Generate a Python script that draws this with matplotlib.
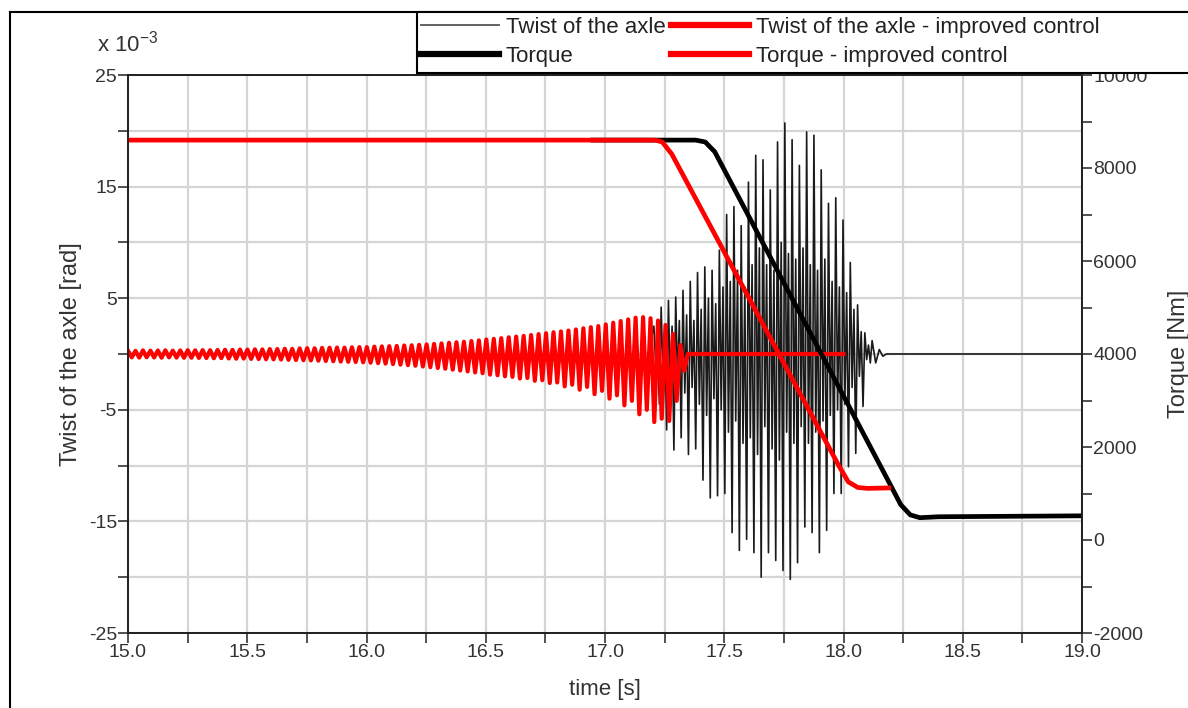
import numpy as np
import matplotlib
matplotlib.use("Agg")
import matplotlib.pyplot as plt
from matplotlib.patches import Rectangle
from matplotlib.lines import Line2D

plt.rcParams['font.family'] = ['Liberation Sans', 'DejaVu Sans']
plt.rcParams['axes.unicode_minus'] = False

# ---- data (twist in 1e-3 rad, torque in Nm) ----
# twist of the axle - improved control: oscillation peaks, ~32 Hz, from 15.0 s
red_twist_start = 15.0
red_twist_period = 0.0313
red_twist_up = [
    0.30, 0.28, 0.32, 0.30, 0.31, 0.33, 0.30, 0.32, 0.34, 0.33,
    0.35, 0.34, 0.36, 0.38, 0.37, 0.40, 0.40, 0.42, 0.41, 0.44,
    0.45, 0.47, 0.46, 0.50, 0.52, 0.51, 0.55, 0.56, 0.58, 0.57,
    0.60, 0.62, 0.62, 0.66, 0.68, 0.70, 0.72, 0.76, 0.78, 0.82,
    0.86, 0.90, 0.95, 1.00, 1.05, 1.10, 1.16, 1.22, 1.30, 1.36,
    1.42, 1.50, 1.56, 1.62, 1.70, 1.78, 1.86, 1.95, 2.02, 2.10,
    2.20, 2.30, 2.40, 2.50, 2.65, 2.80, 2.95, 3.10, 3.25, 3.30,
    3.20, 3.00, 2.60, 1.80, 0.80]
red_twist_down = [
    -0.30, -0.32, -0.29, -0.31, -0.33, -0.30, -0.32, -0.34, -0.33, -0.35,
    -0.36, -0.38, -0.37, -0.40, -0.42, -0.41, -0.44, -0.45, -0.47, -0.48,
    -0.50, -0.52, -0.54, -0.56, -0.58, -0.60, -0.63, -0.65, -0.68, -0.70,
    -0.72, -0.75, -0.78, -0.82, -0.86, -0.90, -0.95, -1.00, -1.05, -1.12,
    -1.18, -1.25, -1.32, -1.40, -1.48, -1.56, -1.65, -1.72, -1.85, -1.90,
    -2.00, -2.05, -2.20, -2.15, -2.40, -2.35, -2.60, -2.55, -2.90, -2.75,
    -3.20, -2.95, -3.60, -3.30, -4.00, -3.70, -4.60, -4.20, -5.40, -5.00,
    -6.10, -5.80, -6.00, -4.20, -1.50]
red_twist_flat_end = 18.0

# twist of the axle (original control): burst, main and inner peaks per cycle
black_twist_start = 17.205
black_twist_period = 0.0305
black_twist_up = [
    2.5, 4.2, 4.8, 5.1, 5.7, 6.5, 7.3, 7.8, 7.5, 9.3,
    12.5, 13.2, 11.5, 15.4, 17.8, 17.4, 14.7, 19.0, 20.7, 19.2,
    16.9, 19.9, 19.6, 16.5, 13.5, 14.0, 12.0, 8.2, 4.4, 1.9]
black_twist_inner_down = [
    -1.0, -2.0, -3.0, -2.5, -3.5, -3.0, -4.5, -5.5, -4.0, -5.0,
    -7.0, -6.0, -8.0, -7.5, -9.0, -6.5, -8.5, -9.5, -7.0, -8.0,
    -6.5, -8.0, -7.0, -6.0, -5.5, -5.0, -4.5, -3.0, -2.0, -0.5]
black_twist_inner_up = [
    1.0, 2.0, 2.5, 3.0, 3.5, 3.0, 4.0, 5.0, 4.5, 6.0,
    6.5, 7.5, 6.0, 8.0, 9.5, 8.0, 7.5, 10.0, 9.0, 8.5,
    9.5, 8.0, 7.5, 8.5, 6.5, 6.0, 5.5, 4.0, 2.0, 0.8]
black_twist_down = [
    -4.5, -6.8, -8.6, -7.5, -9.0, -8.5, -11.3, -12.9, -12.7, -12.5,
    -16.0, -17.6, -16.6, -17.8, -20.0, -17.8, -18.5, -19.4, -20.2, -18.7,
    -15.5, -16.0, -17.8, -15.8, -12.5, -12.5, -10.1, -8.9, -4.7, -0.8]
black_ring_t = [18.12, 18.135, 18.15, 18.165, 18.18, 19.0]
black_ring_v = [1.2, -0.8, 0.4, -0.2, 0.0, 0.0]

# torque curves (knots)
torque_t = [16.95, 17.38, 17.42, 17.46, 18.19, 18.24, 18.28, 18.32, 18.40, 19.0]
torque_v = [8600, 8600, 8560, 8350, 1250, 760, 540, 480, 500, 520]
torque_imp_t = [15.0, 17.21, 17.24, 17.28, 17.98, 18.02, 18.06, 18.10, 18.19]
torque_imp_v = [8600, 8600, 8560, 8300, 1600, 1250, 1130, 1110, 1120]

# ---- build the zigzag lines from the peak lists ----
n = len(red_twist_up)
k = np.arange(n)
rt = np.empty(2 * n + 2)
rv = np.empty(2 * n + 2)
rt[0:2 * n:2] = red_twist_start + k * red_twist_period
rt[1:2 * n:2] = red_twist_start + (k + 0.5) * red_twist_period
rv[0:2 * n:2] = red_twist_up
rv[1:2 * n:2] = red_twist_down
rt[-2] = red_twist_start + n * red_twist_period
rv[-2] = 0.0
rt[-1] = red_twist_flat_end
rv[-1] = 0.0

m = len(black_twist_up)
j = np.arange(m)
bt = np.empty(4 * m)
bv = np.empty(4 * m)
for q, vals in enumerate([black_twist_up, black_twist_inner_down,
                          black_twist_inner_up, black_twist_down]):
    bt[q::4] = black_twist_start + (j + q / 4) * black_twist_period
    bv[q::4] = vals
bt = np.concatenate([[17.18], bt, black_ring_t])
bv = np.concatenate([[0.0], bv, black_ring_v])

# ---- figure ----
W, H = 1188, 708
fig = plt.figure(figsize=(W / 100, H / 100), dpi=100)
ax = fig.add_axes([128 / W, 75 / H, 954 / W, 558 / H])

tcol = '#333333'
ax.set_xlim(15, 19)
ax.set_ylim(-25, 25)
ax.set_xticks(np.arange(15, 19.01, 0.5))
ax.set_xticklabels(['%.1f' % v for v in np.arange(15, 19.01, 0.5)])
ax.set_xticks(np.arange(15.25, 19, 0.5), minor=True)
ax.set_yticks([-25, -15, -5, 5, 15, 25])
ax.set_yticks([-20, -10, 0, 10, 20], minor=True)
ax.grid(which='both', color='#d5d5d5', lw=1.6)
ax.set_axisbelow(True)
ax.tick_params(which='both', labelsize=14, length=7, width=1.2, color=tcol,
               labelcolor=tcol)
ax.tick_params(axis='x', which='major', pad=1)
ax.tick_params(axis='y', which='major', pad=1)

l_tw, = ax.plot(bt, bv, color='#1a1a1a', lw=1.2, zorder=3,
                label='Twist of the axle')
l_tw_imp, = ax.plot(rt, rv, color='#ff0000', lw=3.0, zorder=4,
                    label='Twist of the axle - improved control')

ax2 = ax.twinx()
ax2.set_ylim(-2000, 10000)
ax2.set_yticks(np.arange(-2000, 10001, 2000))
ax2.set_yticks(np.arange(-1000, 10000, 2000), minor=True)
ax2.tick_params(which='both', labelsize=14, length=7, width=1.2, color=tcol,
                labelcolor=tcol, pad=1)
l_tq, = ax2.plot(torque_t, torque_v, color='black', lw=3.4,
                 label='Torque')
l_tq_imp, = ax2.plot(torque_imp_t, torque_imp_v, color='#ff0000', lw=3.4,
                     label='Torque - improved control')

for a in (ax, ax2):
    for s in a.spines.values():
        s.set_linewidth(1.3)
        s.set_color('#222222')

ax.set_xlabel('time [s]', fontsize=16, color=tcol, labelpad=13)
ax.set_ylabel('Twist of the axle [rad]', fontsize=17, color=tcol, labelpad=5)
ax2.set_ylabel('Torque [Nm]', fontsize=17, color=tcol, labelpad=15)
fig.text(97 / W, 1 - 44 / H, 'x 10$^{\\mathregular{-3}}$', fontsize=16, color=tcol,
         va='center', ha='left')

# outer frame and legend box
fig.add_artist(Line2D([10 / W, 1], [1 - 12 / H, 1 - 12 / H], color='black', lw=1.5,
                      transform=fig.transFigure))
fig.add_artist(Line2D([10 / W, 10 / W], [0, 1 - 12 / H], color='black', lw=1.5,
                      transform=fig.transFigure))
fig.add_artist(Rectangle((417 / W, 1 - 73 / H), 1 - 417 / W + 0.01, 61 / H,
                         transform=fig.transFigure, facecolor='white',
                         edgecolor='black', lw=1.5, zorder=5))

h_tw = Line2D([], [], color='#555555', lw=1.3)
h_twi = Line2D([], [], color='#ff0000', lw=4.5)
h_tq = Line2D([], [], color='black', lw=4.5)
h_tqi = Line2D([], [], color='#ff0000', lw=4.5)
leg = fig.legend([h_tw, h_tq, h_twi, h_tqi],
                 [l_tw.get_label(), l_tq.get_label(), l_tw_imp.get_label(), l_tq_imp.get_label()],
                 ncol=2, loc='upper left', bbox_to_anchor=(419 / W, 1 - 15 / H),
                 frameon=False, handlelength=3.5, handletextpad=0.3,
                 columnspacing=0.27, labelspacing=0.36, borderpad=0.1,
                 borderaxespad=0, prop={'size': 16})
for t in leg.get_texts():
    t.set_color('#222222')
leg.set_zorder(6)

fig.savefig('out.png', dpi=100)
